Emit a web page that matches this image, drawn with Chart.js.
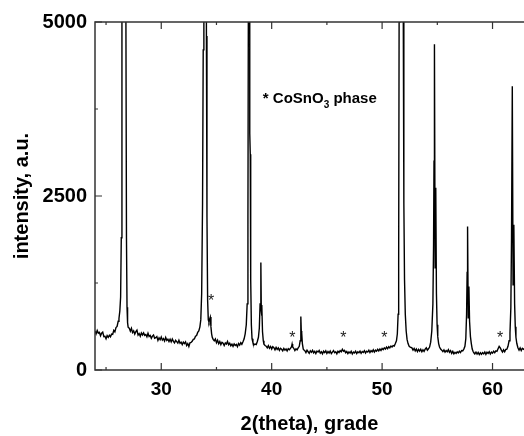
<!DOCTYPE html>
<html>
<head>
<meta charset="utf-8">
<script src="https://cdn.jsdelivr.net/npm/chart.js@4"></script>
<style>
  body { margin: 0; background: #fff; }
  canvas { display: block; }
</style>
</head>
<body>
<canvas id="xrd" width="524" height="436"></canvas>
<script>
// diffraction scan, [2theta, counts]
const scanA = [
  [24.0,562],[24.1,520],[24.2,568],[24.3,530],[24.4,540],[24.5,492],[24.6,528],[24.7,545],[24.8,480],[24.9,485],
  [25.0,448],[25.1,495],[25.2,470],[25.3,500],[25.4,478],[25.5,515],[25.6,512],[25.7,570],[25.8,548],[25.9,610],
  [26.0,625],[26.1,700],[26.17,740],[26.25,850],[26.32,1050],[26.38,1900],[26.44,5000],[26.5,12000],[26.62,40000],
  [26.74,12000],[26.8,5000],[26.85,1900],[26.9,900],[26.95,680],[27.0,615],
  [27.1,602],[27.2,557],[27.3,600],[27.4,538],[27.5,562],[27.6,516],[27.7,550],[27.8,572],[27.9,502],[28.0,523],
  [28.1,484],[28.2,532],[28.3,504],[28.4,534],[28.5,498],[28.6,510],[28.7,477],[28.8,528],[28.9,482],[29.0,496],
  [29.1,456],[29.2,487],[29.3,502],[29.4,456],[29.5,464],[29.6,480],[29.7,424],[29.8,462],[29.9,436],[30.0,474],
  [30.1,429],[30.2,450],[30.3,415],[30.4,469],[30.5,426],[30.6,443],[30.7,408],[30.8,443],[30.9,404],[31.0,446],
  [31.1,411],[31.2,390],[31.3,426],[31.4,408],[31.5,386],[31.6,428],[31.7,384],[31.8,400],[31.9,366],[32.0,401],
  [32.1,380],[32.2,405],[32.3,352],[32.4,380],[32.5,337],[32.6,390],[32.7,395],[32.8,412],[32.9,440],[33.0,445],
  [33.1,485],[33.2,495],[33.3,540],[33.4,560],[33.5,620],[33.58,720],[33.66,1100],[33.74,2400],[33.8,4600],
  [33.86,12000],[33.95,40000],[34.04,12000],[34.09,4800],[34.14,2200],[34.2,1000],[34.26,720],[34.32,690],
  [34.38,730],[34.44,760],[34.5,620],[34.56,520],[34.62,470],[34.7,440],[34.8,420],
  [34.9,445],[35.0,392],[35.1,428],[35.2,378],[35.3,410],[35.4,365],[35.5,398],[35.6,385],[35.7,352],[35.8,388],
  [35.9,372],[36.0,410],[36.1,362],[36.2,385],[36.3,348],[36.4,372],[36.5,340],[36.6,375],[36.7,352],[36.8,368],
  [36.9,335],[37.0,380],[37.1,358],[37.2,392],[37.3,370],[37.4,405],[37.5,445],[37.6,520],[37.7,650],[37.78,950],
  [37.85,2200],[37.91,7000],[37.96,30000],[38.0,7000],[38.03,3400],[38.06,3100],[38.1,1300],[38.16,650],
  [38.22,450],[38.3,395],[38.4,362]
];
const scanB = [
  [38.5,372],[38.6,365],[38.7,410],[38.8,470],[38.88,600],[38.95,950],[39.02,1544],[39.06,850],[39.09,780],
  [39.12,935],[39.17,550],[39.24,420],[39.3,370],[39.4,352],
  [39.5,342],[39.6,318],[39.7,350],[39.8,312],[39.9,338],[40.0,300],[40.1,335],[40.2,322],[40.3,290],[40.4,325],
  [40.5,296],[40.6,318],[40.7,282],[40.8,312],[40.9,298],[41.0,275],[41.1,310],[41.2,285],[41.3,302],[41.4,272],
  [41.5,305],[41.6,290],[41.7,312],[41.8,335],[41.85,372],[41.9,330],[42.0,312],[42.1,280],[42.2,305],[42.3,290],
  [42.4,318],[42.5,340],[42.58,420],[42.64,770],[42.68,560],[42.72,530],[42.78,380],[42.86,300],[42.95,285],
  [43.0,278],[43.1,250],[43.2,285],[43.3,262],[43.4,240],[43.5,276],[43.6,255],[43.7,282],[43.8,246],[43.9,268],
  [44.0,236],[44.1,272],[44.2,258],[44.3,280],[44.4,242],[44.5,262],[44.6,232],[44.7,270],[44.8,250],[44.9,275],
  [45.0,238],[45.1,266],[45.2,245],[45.3,272],[45.4,235],[45.5,258],[45.6,280],[45.7,248],[45.8,262],[45.9,232],
  [46.0,270],[46.1,252],[46.2,278],[46.3,262],[46.4,298],[46.5,270],[46.6,282],[46.7,248],[46.8,265],[46.9,235],
  [47.0,260],[47.1,242],[47.2,268],[47.3,230],[47.4,258],[47.5,245],[47.6,270],[47.7,236],[47.8,262],[47.9,248],
  [48.0,272],[48.1,240],[48.2,266],[48.3,252],[48.4,278],[48.5,245],[48.6,270],[48.7,258],[48.8,285],[48.9,252],
  [49.0,278],[49.1,262],[49.2,290],[49.3,258],[49.4,285],[49.5,270],[49.6,298],[49.7,275],[49.8,302],[49.9,280],
  [50.0,310],[50.1,292],[50.2,318],[50.3,300],[50.4,328],[50.5,305],[50.6,335],[50.7,318],[50.8,345],[50.9,330],
  [51.0,352],[51.1,345],[51.2,380],[51.3,420],[51.38,520],[51.45,800],[51.5,1500],[51.54,5000],[51.6,12000],
  [51.72,40000],[51.84,12000],[51.92,5000],[51.97,2400],[52.03,1300],[52.1,800],[52.18,560],[52.26,440],
  [52.35,380],[52.45,340],[52.55,330]
];
const scanC = [
  [52.7,318],[52.8,285],[52.9,310],[53.0,275],[53.1,302],[53.2,265],[53.3,295],[53.4,270],[53.5,298],[53.6,262],
  [53.7,290],[53.8,268],[53.9,300],[54.0,318],[54.1,285],[54.2,305],[54.3,330],[54.4,400],[54.5,560],[54.6,950],
  [54.66,1800],[54.7,3000],[54.74,4680],[54.8,1470],[54.86,2620],[54.92,1100],[54.98,650],[55.04,480],
  [55.12,380],[55.2,330],[55.3,300],
  [55.4,285],[55.5,265],[55.6,290],[55.7,258],[55.8,280],[55.9,262],[56.0,292],[56.1,255],[56.2,278],[56.3,240],
  [56.4,268],[56.5,232],[56.6,255],[56.7,238],[56.8,262],[56.9,245],[57.0,270],[57.1,250],[57.2,280],[57.3,275],
  [57.4,300],[57.5,340],[57.58,450],[57.65,800],[57.7,1400],[57.74,2060],[57.8,750],[57.86,1200],[57.92,700],
  [58.0,480],[58.08,380],[58.16,300],[58.25,262],
  [58.3,250],[58.4,232],[58.5,258],[58.6,228],[58.7,252],[58.8,222],[58.9,248],[59.0,226],[59.1,250],[59.2,232],
  [59.3,258],[59.4,225],[59.5,255],[59.6,238],[59.7,262],[59.8,230],[59.9,258],[60.0,242],[60.1,270],[60.2,248],
  [60.3,275],[60.4,268],[60.5,305],[60.6,340],[60.7,318],[60.8,285],[60.9,258],[61.0,290],[61.1,262],[61.2,295],
  [61.3,298],[61.4,340],[61.5,420],[61.58,530],[61.66,900],[61.72,1900],[61.79,4076],[61.86,1223],[61.93,2086],
  [62.0,950],[62.06,620],[62.12,470],[62.2,380],[62.3,320],[62.4,285],[62.5,318],[62.6,280],[62.7,312],
  [62.8,298],[62.9,310]
];

const xTicks = [30, 40, 50, 60];
const xMinor = [25, 35, 45, 55];
const yTicks = [0, 2500, 5000];
const yMinor = [1250, 3750];

// impurity reflections marked with a star
const starMarks = [[34.52, 1046], [41.88, 520], [46.5, 520], [50.2, 520], [60.68, 520]];
const phaseNote = { x: 39.2, y: 3840, text: '* CoSnO', sub: '3', tail: ' phase' };

const FONT = '"Liberation Sans", Arial, sans-serif';
const points = scanA.concat(scanB, scanC).map(p => ({ x: p[0], y: p[1] }));

const frame = {
  id: 'frame',
  afterDatasetsDraw(chart) {
    const { ctx, chartArea: a, scales: { x, y } } = chart;
    ctx.save();
    ctx.strokeStyle = '#333';
    ctx.lineWidth = 1.5;
    ctx.beginPath();
    ctx.moveTo(a.right + 1, a.top);
    ctx.lineTo(a.left, a.top);
    ctx.lineTo(a.left, a.bottom);
    ctx.lineTo(a.right + 1, a.bottom);
    ctx.stroke();

    // inward ticks on bottom/top and left
    ctx.lineWidth = 1.2;
    ctx.beginPath();
    const xt = (v, len) => {
      const px = x.getPixelForValue(v);
      ctx.moveTo(px, a.bottom); ctx.lineTo(px, a.bottom - len);
      ctx.moveTo(px, a.top); ctx.lineTo(px, a.top + len);
    };
    xTicks.forEach(v => xt(v, 7));
    xMinor.forEach(v => xt(v, 3));
    const yt = (v, len) => {
      const py = y.getPixelForValue(v);
      ctx.moveTo(a.left, py); ctx.lineTo(a.left + len, py);
    };
    yTicks.forEach(v => yt(v, 7));
    yMinor.forEach(v => yt(v, 3));
    ctx.stroke();

    ctx.fillStyle = '#222';
    ctx.font = '16px ' + FONT;
    ctx.textAlign = 'center';
    ctx.textBaseline = 'alphabetic';
    starMarks.forEach(s => {
      ctx.fillText('*', x.getPixelForValue(s[0]), y.getPixelForValue(s[1]) + 9);
    });

    // phase legend with subscript
    ctx.fillStyle = '#000';
    ctx.textAlign = 'left';
    let px = x.getPixelForValue(phaseNote.x);
    const py = y.getPixelForValue(phaseNote.y);
    ctx.font = 'bold 15px ' + FONT;
    ctx.fillText(phaseNote.text, px, py);
    px += ctx.measureText(phaseNote.text).width;
    ctx.font = 'bold 10px ' + FONT;
    ctx.fillText(phaseNote.sub, px, py + 5);
    px += ctx.measureText(phaseNote.sub).width;
    ctx.font = 'bold 15px ' + FONT;
    ctx.fillText(phaseNote.tail, px, py);
    ctx.restore();
  }
};

new Chart(document.getElementById('xrd'), {
  type: 'scatter',
  data: {
    datasets: [{
      data: points,
      showLine: true,
      borderColor: '#000',
      borderWidth: 1.4,
      pointRadius: 0,
      tension: 0
    }]
  },
  options: {
    responsive: false,
    animation: false,
    devicePixelRatio: 1,
    layout: { padding: { top: 22, right: 0, left: 0, bottom: 0 } },
    plugins: { legend: { display: false }, tooltip: { enabled: false } },
    scales: {
      x: {
        type: 'linear',
        min: 24,
        max: 62.85,
        grid: { display: false, drawTicks: false },
        border: { display: false },
        afterBuildTicks: s => { s.ticks = xTicks.map(v => ({ value: v })); },
        afterFit: s => { s.height = 66; },
        ticks: {
          padding: 8,
          color: '#000',
          font: { family: FONT, size: 19, weight: 'bold' },
          maxRotation: 0,
          callback: v => String(v)
        },
        title: {
          display: true,
          text: '2(theta), grade',
          color: '#000',
          font: { family: FONT, size: 20, weight: 'bold' },
          padding: { top: 0, bottom: 0 }
        }
      },
      y: {
        min: 0,
        max: 5000,
        grid: { display: false, drawTicks: false },
        border: { display: false },
        afterBuildTicks: s => { s.ticks = yTicks.map(v => ({ value: v })); },
        afterFit: s => { s.width = 95; },
        ticks: {
          padding: 8,
          color: '#000',
          font: { family: FONT, size: 20, weight: 'bold' },
          callback: v => String(v)
        },
        title: {
          display: true,
          text: 'intensity, a.u.',
          color: '#000',
          font: { family: FONT, size: 20, weight: 'bold' },
          padding: { top: 10, bottom: 0 }
        }
      }
    }
  },
  plugins: [frame]
});
</script>
</body>
</html>
